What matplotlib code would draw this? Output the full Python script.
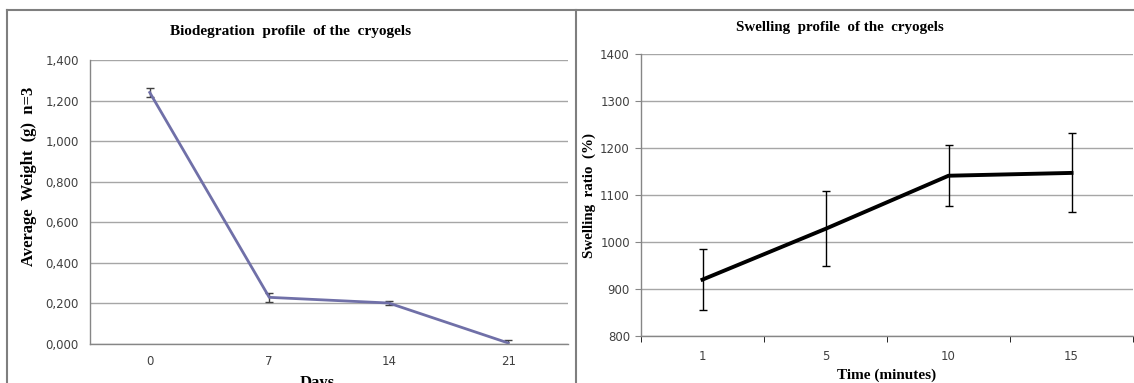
import matplotlib.pyplot as plt
from matplotlib.lines import Line2D

# biodegradation data
days = ['0', '7', '14', '21']
weight = [1.240, 0.230, 0.202, 0.005]
weight_err = [0.020, 0.022, 0.010, 0.015]

# swelling data
minutes = ['1', '5', '10', '15']
swelling = [920, 1028, 1141, 1147]
swelling_err = [65, 80, 65, 84]

W, H = 1134, 383
fig = plt.figure(figsize=(W / 100, H / 100), dpi=100)

serif = 'Liberation Serif'
tick_col = '#404040'
grid_col = '#a6a6a6'


def px(x, y):
    # pixel (from top-left) -> figure fraction
    return x / W, 1 - y / H


# panel frames
frame = dict(color='#7f7f7f', lw=1.5, transform=fig.transFigure)
fig.add_artist(Line2D([7 / W, 7 / W], [0, 1 - 10 / H], **frame))
fig.add_artist(Line2D([7 / W, 1], [1 - 10 / H, 1 - 10 / H], **frame))
fig.add_artist(Line2D([576 / W, 576 / W], [0, 1 - 10 / H], **frame))


def setup(ax):
    for s in ['top', 'right']:
        ax.spines[s].set_visible(False)
    for s in ['left', 'bottom']:
        ax.spines[s].set_color('#868686')
        ax.spines[s].set_linewidth(1)
    ax.grid(axis='y', color=grid_col, lw=1)
    ax.set_axisbelow(True)
    ax.set_xlim(-0.5, 3.5)
    ax.tick_params(labelsize=8.5, labelcolor=tick_col, colors='#868686')


lab = dict(family=serif, fontweight='bold', ha='center', va='center')

# left: biodegradation
ax1 = fig.add_axes([90 / W, 1 - 344 / H, 478 / W, 284 / H])
setup(ax1)
x = range(len(days))
ax1.errorbar(x, weight, yerr=weight_err, color='#7070a8', lw=2,
             ecolor='#404040', elinewidth=1, capsize=3, capthick=1)
ax1.set_ylim(0, 1.4)
ax1.set_yticks([0, 0.2, 0.4, 0.6, 0.8, 1.0, 1.2, 1.4])
ax1.set_yticklabels([f'{v:.3f}'.replace('.', ',') for v in ax1.get_yticks()])
ax1.set_xticks(list(x))
ax1.set_xticklabels(days)
ax1.tick_params(length=0, pad=8)
fig.text(*px(291, 31), 'Biodegration  profile  of the  cryogels', fontsize=11, **lab)
fig.text(*px(29, 176), 'Average  Weight  (g)  n=3', fontsize=12, rotation=90, **lab)
fig.text(*px(317, 383), 'Days', fontsize=12, **lab)

# right: swelling
ax2 = fig.add_axes([641 / W, 1 - 336 / H, 492 / W, 282 / H])
setup(ax2)
x = range(len(minutes))
ax2.errorbar(x, swelling, yerr=swelling_err, color='black', lw=2.8,
             ecolor='black', elinewidth=1, capsize=3, capthick=1)
ax2.set_ylim(800, 1400)
ax2.set_yticks(range(800, 1401, 100))
ax2.set_xticks(list(x))
ax2.set_xticklabels(minutes)
ax2.set_xticks([-0.5, 0.5, 1.5, 2.5, 3.5], minor=True)
ax2.tick_params(axis='x', which='major', length=0, pad=10)
ax2.tick_params(axis='x', which='minor', length=4, direction='out')
ax2.tick_params(axis='y', length=4, direction='out', pad=4)
fig.text(*px(840, 27), 'Swelling  profile  of the  cryogels', fontsize=10.8, **lab)
fig.text(*px(589, 196), 'Swelling  ratio  (%)', fontsize=10.8, rotation=90, **lab)
fig.text(*px(887, 375), 'Time (minutes)', fontsize=11, **lab)

fig.savefig('out.png', dpi=100)
